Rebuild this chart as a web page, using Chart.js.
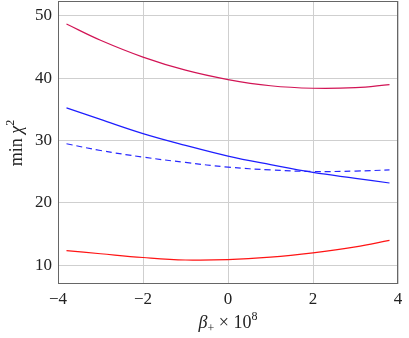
<!DOCTYPE html>
<html>
<head>
<meta charset="utf-8">
<script src="https://cdn.jsdelivr.net/npm/chart.js@4"></script>
<style>
html,body{margin:0;padding:0;background:#fff;}
#wrap{width:409px;height:338px;position:relative;}
</style>
</head>
<body>
<div id="wrap"><canvas id="c" width="409" height="338"></canvas></div>
<script>
const xValues = [-3.8, -3, -2, -1, 0, 1, 2, 3, 3.8];
const crimsonSeries = [48.7, 46.1, 43.4, 41.3, 39.8, 38.8, 38.4, 38.5, 39.0];
const blueSolidSeries = [35.25, 33.4, 31.13, 29.24, 27.52, 26.15, 24.9, 23.95, 23.2];
const blueDashedSeries = [29.5, 28.42, 27.36, 26.5, 25.75, 25.3, 25.05, 25.12, 25.3];
const redSeries = [12.35, 11.85, 11.25, 10.85, 10.9, 11.3, 12.0, 12.95, 14.0];
const xTicks = [-4, -2, 0, 2, 4];
const yTicks = [10, 20, 30, 40, 50];

const pts = arr => arr.map((v, i) => ({x: xValues[i], y: v}));
const FONT = "'Liberation Serif', 'DejaVu Serif', serif";

const boxPlugin = {
  id: 'box',
  afterDraw(chart) {
    const a = chart.chartArea, ctx = chart.ctx;
    ctx.save();
    ctx.strokeStyle = '#666';
    ctx.lineWidth = 1;
    ctx.strokeRect(Math.round(a.left) + 0.5, Math.round(a.top) + 0.5,
      Math.round(a.right - a.left) - 1, Math.round(a.bottom - a.top) - 1);
    ctx.fillStyle = '#222';
    const cx = (a.left + a.right) / 2;
    const y0 = 328;
    ctx.textBaseline = 'alphabetic';
    const parts = [
      {t: 'β', f: "italic 18px " + FONT, dy: 0},
      {t: '+', f: "12px " + FONT, dy: 4},
      {t: ' × 10', f: "18px " + FONT, dy: 0},
      {t: '8', f: "12px " + FONT, dy: -8}
    ];
    let w = 0;
    parts.forEach(p => { ctx.font = p.f; w += ctx.measureText(p.t).width; });
    let x = cx - w / 2;
    parts.forEach(p => { ctx.font = p.f; ctx.fillText(p.t, x, y0 + p.dy); x += ctx.measureText(p.t).width; });
    ctx.translate(22, 143);
    ctx.rotate(-Math.PI / 2);
    const yparts = [
      {t: 'min ', f: "18px " + FONT, dy: 0},
      {t: 'χ', f: "italic 18px " + FONT, dy: 0},
      {t: '2', f: "12px " + FONT, dy: -8}
    ];
    w = 0;
    yparts.forEach(p => { ctx.font = p.f; w += ctx.measureText(p.t).width; });
    x = -w / 2;
    yparts.forEach(p => { ctx.font = p.f; ctx.fillText(p.t, x, p.dy); x += ctx.measureText(p.t).width; });
    ctx.restore();
  }
};

new Chart(document.getElementById('c'), {
  type: 'line',
  data: {
    datasets: [
      {data: pts(crimsonSeries), borderColor: 'rgb(210,20,85)', borderWidth: 1.2, pointRadius: 0, tension: 0.4, fill: false},
      {data: pts(blueSolidSeries), borderColor: 'rgb(30,30,255)', borderWidth: 1.2, pointRadius: 0, tension: 0.4, fill: false},
      {data: pts(blueDashedSeries), borderColor: 'rgb(40,40,255)', borderWidth: 1.2, borderDash: [6, 4], pointRadius: 0, tension: 0.4, fill: false},
      {data: pts(redSeries), borderColor: 'rgb(255,20,20)', borderWidth: 1.2, pointRadius: 0, tension: 0.4, fill: false}
    ]
  },
  options: {
    responsive: false,
    animation: false,
    layout: {padding: {top: 1, right: 11, left: 0, bottom: 0}},
    plugins: {legend: {display: false}, tooltip: {enabled: false}},
    scales: {
      x: {
        type: 'linear', min: -4, max: 4,
        afterBuildTicks: s => { s.ticks = xTicks.map(v => ({value: v})); },
        afterFit: s => { s.height = 54; s.paddingLeft = 0; s.paddingRight = 0; },
        grid: {color: '#cfcfcf', lineWidth: 1, drawTicks: false},
        border: {display: false},
        ticks: {padding: 5, maxRotation: 0, color: '#222', font: {family: FONT, size: 17},
          callback: v => (v < 0 ? '\u2212' + Math.abs(v) : String(v))}
      },
      y: {
        type: 'linear', min: 7, max: 52.4,
        afterBuildTicks: s => { s.ticks = yTicks.map(v => ({value: v})); },
        afterFit: s => { s.width = 58; s.paddingTop = 0; s.paddingBottom = 0; },
        grid: {color: '#cfcfcf', lineWidth: 1, drawTicks: false},
        border: {display: false},
        ticks: {padding: 6, color: '#222', font: {family: FONT, size: 17}}
      }
    }
  },
  plugins: [boxPlugin]
});
</script>
</body>
</html>
